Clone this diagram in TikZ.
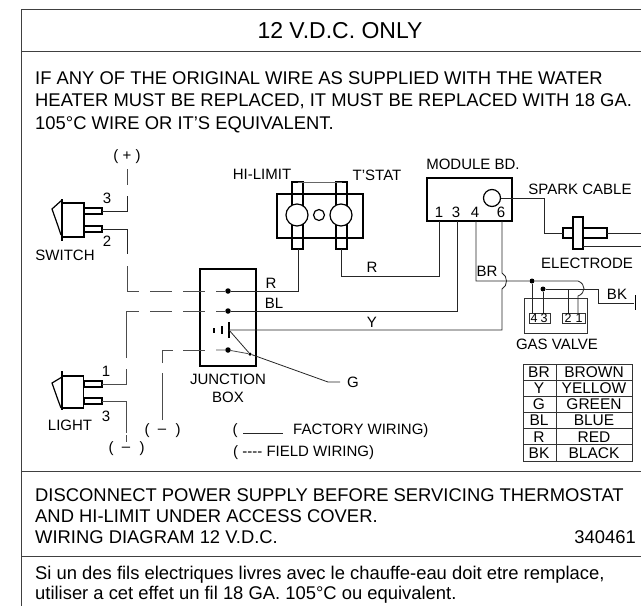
\documentclass[tikz,border=0pt]{standalone}
\usepackage{fontspec}
\setmainfont{Liberation Sans}
\usetikzlibrary{calc}
\tikzset{
    lbl/.style={inner sep=0pt,font=\fontsize{15}{15}\selectfont},
    txt/.style={inner sep=0pt,anchor=base west,font=\fontsize{18.4}{19}\selectfont},
    pin/.style={inner sep=0pt,font=\fontsize{12.5}{13}\selectfont},
    part/.style={draw,line width=1.2pt,rectangle,inner sep=0pt,outer sep=0pt},
    thin part/.style={draw,line width=0.8pt,rectangle,inner sep=0pt,outer sep=0pt,black!80},
    wire/.style={draw,line width=0.8pt,black!85},
    field/.style={draw,line width=0.8pt,black!70},
    fielddash/.style={field,dash pattern=on 22pt off 11pt},
    spot/.style={fill=black,circle,inner sep=0pt,minimum size=5.5pt},
    frameline/.style={draw,line width=1pt,black!75}
}
\begin{document}
\begin{tikzpicture}[x=1pt,y=-1pt]
                    \useasboundingbox (0,0) rectangle (641,606);
                    \coordinate (tl) at (21,9);
                    \coordinate (tr) at (641,9);
                    \coordinate (bl) at (21,606);
                    \draw[frameline] (tr) -- (tl) -- (bl);
                    \foreach \yy in {51,471,556} {
                        \draw[frameline] (21,\yy) -- (641,\yy);
                    }
                    \draw (340,38) node[inner sep=0pt,anchor=base,name=title,font=\fontsize{23}{24}\selectfont] {12 V.D.C. ONLY};
                    \draw (35,84) node[txt,name=warna] {IF ANY OF THE ORIGINAL WIRE AS SUPPLIED WITH THE WATER};
                    \draw (35,106) node[txt,name=warnb] {HEATER MUST BE REPLACED, IT MUST BE REPLACED WITH 18 GA.};
                    \draw (35,129) node[txt,name=warnc] {105°C WIRE OR IT'S EQUIVALENT.};
                    \draw (35,501) node[txt,name=discona] {DISCONNECT POWER SUPPLY BEFORE SERVICING THERMOSTAT};
                    \draw (35,522) node[txt,name=disconb] {AND HI-LIMIT UNDER ACCESS COVER.};
                    \draw (35,543) node[txt,name=disconc] {WIRING DIAGRAM 12 V.D.C.};
                    \draw (636,543) node[txt,anchor=base east,name=partno] {340461};
                    \draw (35,579) node[txt,name=frencha] {Si un des fils electriques livres avec le chauffe-eau doit etre remplace,};
                    \draw (35,599) node[txt,name=frenchb] {utiliser a cet effet un fil 18 GA. 105°C ou equivalent.};

                    \draw (127,157) node[lbl,name=plus] {( + )};
                    \draw (73,220) node[part,minimum width=22pt,minimum height=34pt,name=sw] {};
                    \draw[line width=1.6pt] (62,199) -- (62,241);
                    \draw[line width=1.2pt] (62,200) -- (52,209) -- (58,226) -- (61,235);
                    \draw (93,211) node[part,minimum width=18pt,minimum height=6pt,name=swa] {};
                    \draw (93,229) node[part,minimum width=18pt,minimum height=6pt,name=swb] {};
                    \draw (107,198) node[lbl,name=swthree] {3};
                    \draw (107,241) node[lbl,name=swtwo] {2};
                    \draw (65,255) node[lbl,name=swlabel] {SWITCH};

                    \draw (73,392) node[part,minimum width=21pt,minimum height=32pt,name=lt] {};
                    \draw[line width=1.6pt] (62,371) -- (62,410);
                    \draw[line width=1.2pt] (62,377) -- (52,383) -- (58,400) -- (61,408);
                    \draw (93,384) node[part,minimum width=18pt,minimum height=6pt,name=lta] {};
                    \draw (93,401) node[part,minimum width=18pt,minimum height=6pt,name=ltb] {};
                    \draw (106,371) node[lbl,name=ltone] {1};
                    \draw (106,416) node[lbl,name=ltthree] {3};
                    \draw (70,425) node[lbl,name=ltlabel] {LIGHT};

                    \draw (228,317.5) node[part,minimum width=56pt,minimum height=97pt,name=jb] {};
                    \draw (228,379) node[lbl,name=jblabela] {JUNCTION};
                    \draw (228,397) node[lbl,name=jblabelb] {BOX};
                    \draw (228,291) node[spot,name=jr] {};
                    \draw (228,311) node[spot,name=jbl] {};
                    \coordinate (jy) at (229,330);
                    \draw (228,350) node[spot,name=jg] {};
                    \draw (250,354) node[spot,minimum size=3.5pt,name=jt] {};
                    \draw (214,330) node[fill=black,inner sep=0pt,minimum width=2pt,minimum height=5pt,name=gnda] {};
                    \draw[line width=1.3pt] (222,326) -- (222,334);
                    \draw[line width=1.3pt] (229,322) -- (229,338);

                    \coordinate (plusend) at (127,169);
                    \draw[field] (plusend) -- (127,185);
                    \draw[wire] (swa.east) -- (127,211) -- (127,196);
                    \draw[wire] (swb.east) -- (127,229) -- (127,254);
                    \draw[field] (127,266) -- (127,291) -- (139,291);
                    \draw[fielddash] (150,291) -- (jr);
                    \draw[field] (lta.east) -- (126,384) -- (126,369);
                    \draw[field] (126,358) -- (126,311) -- (139,311);
                    \draw[fielddash] (150,311) -- (jbl);
                    \draw[field] (ltb.east) -- (126,401) -- (126,433);
                    \draw[field] (126,435) -- (126,442);
                    \draw[field] (162,420) -- (162,373);
                    \draw[field] (162,363) -- (162,350) -- (173,350);
                    \draw[field] (183,350) -- (205,350);
                    \draw[field] (216,350) -- (jg) -- (jt);
                    \draw[wire] (jy) -- (jt) -- (328,382) -- (340,382);
                    \draw (353,382) node[lbl,name=glabel] {G};

                    \draw (111,449) node[lbl,name=lowa] {(};
                    \draw (126,449) node[lbl,name=lowb] {--};
                    \draw (142,449) node[lbl,name=lowc] {)};
                    \draw (147,431) node[lbl,name=higha] {(};
                    \draw (162,431) node[lbl,name=highb] {--};
                    \draw (178,431) node[lbl,name=highc] {)};

                    \draw (320,216) node[part,minimum width=86pt,minimum height=44pt,name=hl] {};
                    \draw (297.5,215.5) node[part,minimum width=11pt,minimum height=67pt,name=hla] {};
                    \draw (341.5,215.5) node[part,minimum width=11pt,minimum height=67pt,name=hlb] {};
                    \draw[wire,black!60] (hla.north) -- (hlb.north);
                    \draw (297,215) node[circle,draw,line width=1.2pt,fill=white,minimum size=22pt,inner sep=0pt,name=hlc] {};
                    \draw (341,215) node[circle,draw,line width=1.2pt,fill=white,minimum size=22pt,inner sep=0pt,name=hld] {};
                    \draw (319,215) node[circle,draw,line width=1.2pt,minimum size=11pt,inner sep=0pt,name=hle] {};
                    \draw (262,174) node[lbl,name=hllabel] {HI-LIMIT};
                    \draw (377,175) node[lbl,name=tslabel] {T'STAT};

                    \draw (469.5,199.5) node[part,minimum width=85pt,minimum height=43pt,name=md] {};
                    \draw (492,198) node[circle,draw,line width=1.2pt,minimum size=17pt,inner sep=0pt,name=mdc] {};
                    \draw (473,164) node[lbl,name=mdlabel] {MODULE BD.};
                    \draw (439,212) node[lbl,name=ma] {1};
                    \draw (456,212) node[lbl,name=mb] {3};
                    \draw (475,212) node[lbl,name=mc] {4};
                    \draw (501,212) node[lbl,name=md6] {6};

                    \draw[wire] (jr) -- (298,291) -- (298,249);
                    \draw[wire] (jbl) -- (457,311) -- (457,221);
                    \draw[wire] (hlb.south) -- (341.5,276) -- (439,276) -- (439,221);
                    \draw[wire] (jy) -- (502,330) -- (502,289) .. controls (508,286) and (508,276) .. (502,273) -- (502,221);
                    \draw (271,283) node[lbl,name=rlabel] {R};
                    \draw (274,303) node[lbl,name=bllabel] {BL};
                    \draw (372,322) node[lbl,name=ylabel] {Y};
                    \draw (372,267) node[lbl,name=rlabelb] {R};
                    \draw (487,271) node[lbl,name=brlabel] {BR};

                    \draw (568,233) node[part,minimum width=10pt,minimum height=10pt,name=ela] {};
                    \draw (578,233) node[part,minimum width=10pt,minimum height=32pt,name=elb] {};
                    \draw (595,233) node[part,minimum width=24pt,minimum height=10pt,name=elc] {};
                    \draw[wire] (mdc.east) -- (544,198) -- (544,233) -- (ela.west);
                    \coordinate (ra) at (641,233);
                    \coordinate (rb) at (641,246);
                    \draw[wire] (elc.east) -- (ra);
                    \draw[wire] (583,246) -- (rb);
                    \draw (580,189) node[lbl,name=sparklabel] {SPARK CABLE};
                    \draw (587,263) node[lbl,name=ellabel] {ELECTRODE};

                    \draw (555.5,315.5) node[thin part,minimum width=63pt,minimum height=35pt,name=gv] {};
                    \draw (539.5,318) node[thin part,minimum width=21pt,minimum height=10pt,name=gva] {};
                    \draw (573.5,318) node[thin part,minimum width=23pt,minimum height=10pt,name=gvb] {};
                    \draw (534,318) node[pin,name=pa] {4};
                    \draw (544,318) node[pin,name=pb] {3};
                    \draw (568,318) node[pin,name=pc] {2};
                    \draw (579,318) node[pin,name=pd] {1};
                    \draw (532,281) node[spot,minimum size=5pt,name=va] {};
                    \draw (543,289) node[spot,minimum size=5pt,name=vb] {};
                    \draw[wire] (476,221) -- (476,281) -- (va) -- (578,281) .. controls (586,284) and (586,293) .. (578,296) -- (578,313);
                    \draw[wire] (va) -- (532,313);
                    \draw[wire] (vb) -- (543,313);
                    \draw[wire] (568,289) -- (568,313);
                    \draw[wire] (vb) -- (598,289) -- (598,303) -- (634,303);
                    \draw[line width=1pt] (635,295) -- (635,310);
                    \draw (617,294) node[lbl,name=bklabel] {BK};
                    \draw (557,344) node[lbl,name=gvlabel] {GAS VALVE};

                    \draw (577.5,412.5) node[thin part,minimum width=109pt,minimum height=97pt,name=key] {};
                    \draw[thin part] (556,364) -- (556,461);
                    \foreach \yy in {1,...,5} {
                        \draw[thin part] (523,364+16.17*\yy) -- (632,364+16.17*\yy);
                    }
                    \foreach \yy/\aa/\bb in {0/BR/BROWN,1/Y/YELLOW,2/G/GREEN,3/BL/BLUE,4/R/RED,5/BK/BLACK} {
                        \draw (539,372+16.17*\yy) node[lbl,name=keya\yy,font=\fontsize{15.5}{16}\selectfont] {\aa};
                        \draw (594,372+16.17*\yy) node[lbl,name=keyb\yy,font=\fontsize{15.5}{16}\selectfont] {\bb};
                    }

                    \draw (235,431) node[lbl,name=lega] {(};
                    \coordinate (fa) at (243,433);
                    \coordinate (fb) at (283,433);
                    \draw[wire] (fa) -- (fb);
                    \draw (293,431) node[lbl,anchor=west,name=legb] {FACTORY WIRING)};
                    \draw (233,453) node[lbl,anchor=west,name=legc] {( {-}{-}{-}{-} FIELD WIRING)};
                \end{tikzpicture}
\end{document}
